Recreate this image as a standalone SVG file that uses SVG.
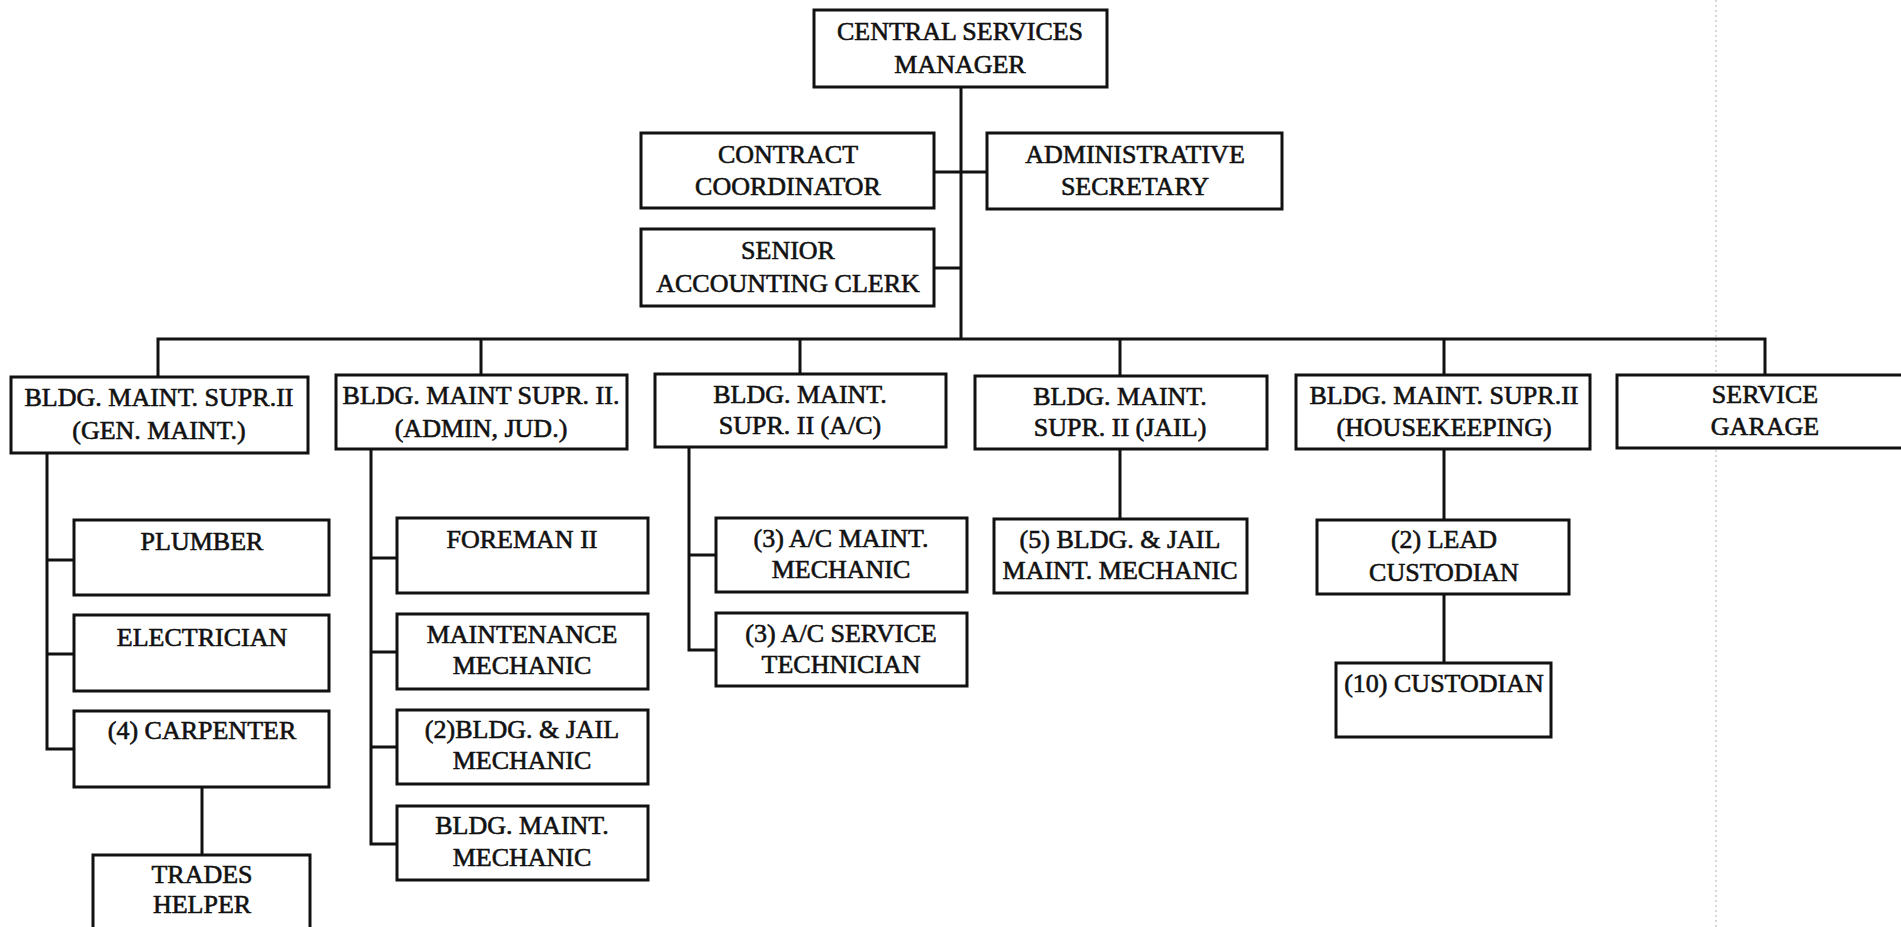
<svg xmlns="http://www.w3.org/2000/svg" width="1901" height="927" viewBox="0 0 1901 927">
<style>
.box{fill:#fff;stroke:#111;stroke-width:3}
.ln{fill:none;stroke:#111;stroke-width:3}
text{font-family:"Liberation Serif","Times New Roman",serif;font-size:26px;fill:#111;stroke:#111;stroke-width:0.6;text-anchor:middle}
</style>
<rect width="1901" height="927" fill="#fff"/>
<line x1="1716" y1="0" x2="1716" y2="927" stroke="#ccc" stroke-width="1.5" stroke-dasharray="2 3"/>
<g id="connectors" class="ln">
<path d="M961 87V339"/>
<path d="M934 172H987"/>
<path d="M934 268H961"/>
<path d="M158 377V339H1765V376"/>
<path d="M481 339V376"/>
<path d="M800 339V374"/>
<path d="M1120 339V376"/>
<path d="M1444 339V376"/>
<path d="M47 453V749H74"/>
<path d="M47 560H74"/>
<path d="M47 654H74"/>
<path d="M202 787V855"/>
<path d="M371 449V844H397"/>
<path d="M371 558H397"/>
<path d="M371 652H397"/>
<path d="M371 747H397"/>
<path d="M689 447V650H716"/>
<path d="M689 555H716"/>
<path d="M1120 449V519"/>
<path d="M1444 449V520"/>
<path d="M1444 594V663"/>
</g>
<g id="central"><rect class="box" x="814" y="10" width="293" height="77"/><text x="960" y="40">CENTRAL SERVICES</text><text x="960" y="73">MANAGER</text></g>
<g id="contract"><rect class="box" x="641" y="133" width="293" height="75"/><text x="788" y="163">CONTRACT</text><text x="788" y="195">COORDINATOR</text></g>
<g id="adminsec"><rect class="box" x="987" y="133" width="295" height="76"/><text x="1135" y="163">ADMINISTRATIVE</text><text x="1135" y="195">SECRETARY</text></g>
<g id="senior"><rect class="box" x="641" y="229" width="293" height="77"/><text x="788" y="259">SENIOR</text><text x="788" y="292">ACCOUNTING CLERK</text></g>
<g id="genmaint"><rect class="box" x="11" y="377" width="297" height="76"/><text x="159" y="406">BLDG. MAINT. SUPR.II</text><text x="159" y="439">(GEN. MAINT.)</text></g>
<g id="adminjud"><rect class="box" x="336" y="375" width="291" height="74"/><text x="481" y="404">BLDG. MAINT SUPR. II.</text><text x="481" y="437">(ADMIN, JUD.)</text></g>
<g id="ac"><rect class="box" x="655" y="374" width="291" height="73"/><text x="800" y="403">BLDG. MAINT.</text><text x="800" y="434">SUPR. II (A/C)</text></g>
<g id="jail"><rect class="box" x="975" y="376" width="292" height="73"/><text x="1120" y="405">BLDG. MAINT.</text><text x="1120" y="436">SUPR. II (JAIL)</text></g>
<g id="housekeeping"><rect class="box" x="1296" y="375" width="294" height="74"/><text x="1444" y="404">BLDG. MAINT. SUPR.II</text><text x="1444" y="436">(HOUSEKEEPING)</text></g>
<g id="garage"><rect class="box" x="1617" y="375" width="290" height="73"/><text x="1765" y="403">SERVICE</text><text x="1765" y="435">GARAGE</text></g>
<g id="plumber"><rect class="box" x="74" y="520" width="255" height="75"/><text x="202" y="550">PLUMBER</text></g>
<g id="electrician"><rect class="box" x="74" y="615" width="255" height="76"/><text x="202" y="646">ELECTRICIAN</text></g>
<g id="carpenter"><rect class="box" x="74" y="711" width="255" height="76"/><text x="202" y="739">(4) CARPENTER</text></g>
<g id="trades"><rect class="box" x="93" y="855" width="217" height="80"/><text x="202" y="883">TRADES</text><text x="202" y="913">HELPER</text></g>
<g id="foreman"><rect class="box" x="397" y="518" width="251" height="75"/><text x="522" y="548">FOREMAN II</text></g>
<g id="maintmech"><rect class="box" x="397" y="614" width="251" height="75"/><text x="522" y="643">MAINTENANCE</text><text x="522" y="674">MECHANIC</text></g>
<g id="bldgjailmech"><rect class="box" x="397" y="710" width="251" height="74"/><text x="522" y="738">(2)BLDG. &amp; JAIL</text><text x="522" y="769">MECHANIC</text></g>
<g id="bldgmaintmech"><rect class="box" x="397" y="806" width="251" height="74"/><text x="522" y="834">BLDG. MAINT.</text><text x="522" y="866">MECHANIC</text></g>
<g id="acmaint"><rect class="box" x="716" y="518" width="251" height="74"/><text x="841" y="547">(3) A/C MAINT.</text><text x="841" y="578">MECHANIC</text></g>
<g id="acservice"><rect class="box" x="716" y="613" width="251" height="73"/><text x="841" y="642">(3) A/C SERVICE</text><text x="841" y="673">TECHNICIAN</text></g>
<g id="jailmech"><rect class="box" x="994" y="519" width="253" height="74"/><text x="1120" y="548">(5) BLDG. &amp; JAIL</text><text x="1120" y="579">MAINT. MECHANIC</text></g>
<g id="lead"><rect class="box" x="1317" y="520" width="252" height="74"/><text x="1444" y="548">(2) LEAD</text><text x="1444" y="581">CUSTODIAN</text></g>
<g id="custodian"><rect class="box" x="1336" y="663" width="215" height="74"/><text x="1444" y="692">(10) CUSTODIAN</text></g>
</svg>
